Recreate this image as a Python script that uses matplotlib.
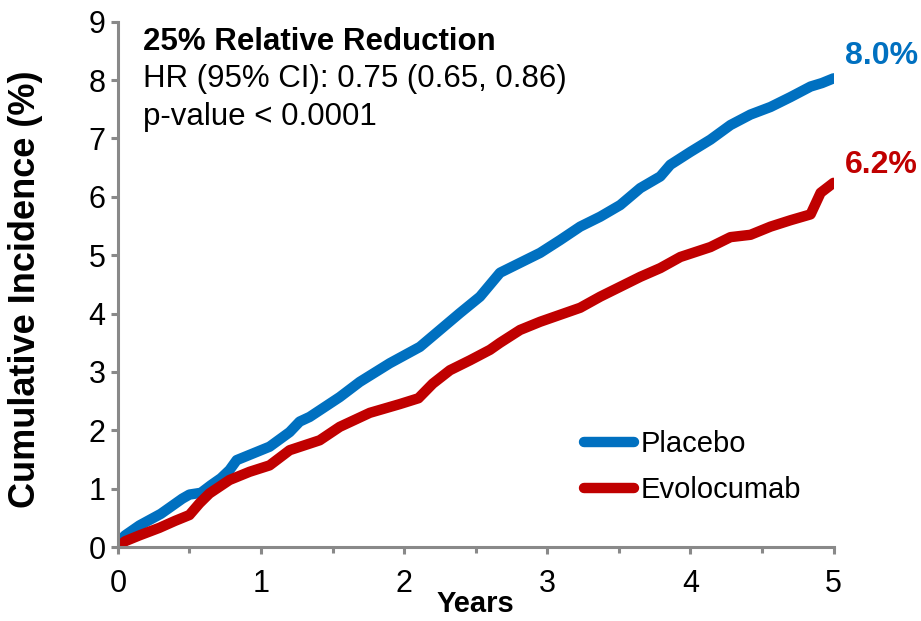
import matplotlib.pyplot as plt
from matplotlib.ticker import MultipleLocator

plt.rcParams["font.family"] = ["Liberation Sans", "DejaVu Sans"]

# --- Data ---
years_placebo = [0, 0.05, 0.15, 0.3, 0.45, 0.5, 0.58, 0.65, 0.72, 0.78, 0.83,
                 0.92, 1.06, 1.2, 1.27, 1.34, 1.55, 1.69, 1.9, 2.11, 2.25, 2.39,
                 2.53, 2.67, 2.81, 2.95, 3.09, 3.23, 3.37, 3.51, 3.65, 3.79,
                 3.86, 4.0, 4.14, 4.28, 4.42, 4.56, 4.7, 4.84, 4.92, 5.0]
inc_placebo = [0.07, 0.2, 0.37, 0.57, 0.83, 0.9, 0.93, 1.06, 1.18, 1.32, 1.49,
               1.58, 1.72, 1.97, 2.15, 2.23, 2.57, 2.83, 3.15, 3.43, 3.72, 4.01,
               4.29, 4.7, 4.87, 5.04, 5.26, 5.49, 5.66, 5.86, 6.15, 6.35,
               6.55, 6.77, 6.98, 7.23, 7.41, 7.54, 7.71, 7.89, 7.95, 8.03]

years_evo = [0, 0.05, 0.15, 0.29, 0.4, 0.5, 0.57, 0.64, 0.78, 0.92, 1.06, 1.2,
             1.41, 1.55, 1.76, 1.97, 2.1, 2.2, 2.32, 2.46, 2.6, 2.67, 2.81,
             2.95, 3.09, 3.23, 3.37, 3.51, 3.65, 3.79, 3.93, 4.14, 4.28, 4.42,
             4.56, 4.7, 4.84, 4.91, 5.0]
inc_evo = [0.0, 0.1, 0.2, 0.33, 0.45, 0.55, 0.75, 0.92, 1.15, 1.29, 1.4, 1.66,
           1.83, 2.06, 2.3, 2.45, 2.55, 2.8, 3.03, 3.2, 3.38, 3.5, 3.72,
           3.86, 3.98, 4.1, 4.29, 4.46, 4.63, 4.78, 4.97, 5.14, 5.31, 5.35,
           5.49, 5.6, 5.7, 6.07, 6.24]

final_labels = ["8.0%", "6.2%"]
blue = "#0070C0"
red = "#C00000"
grey = "#898989"

fig = plt.figure(figsize=(9.21, 6.21), dpi=100)
ax = fig.add_axes([0.128, 0.119, 0.777, 0.846])

ax.plot(years_placebo, inc_placebo, color=blue, lw=7.5,
        solid_capstyle="round", solid_joinstyle="round", label="Placebo")
ax.plot(years_evo, inc_evo, color=red, lw=7.5,
        solid_capstyle="round", solid_joinstyle="round", label="Evolocumab")

ax.set_xlim(0, 5)
ax.set_ylim(0, 9)
ax.xaxis.set_major_locator(MultipleLocator(1))
ax.xaxis.set_minor_locator(MultipleLocator(0.5))
ax.yaxis.set_major_locator(MultipleLocator(1))

for side in ["top", "right"]:
    ax.spines[side].set_visible(False)
for side in ["left", "bottom"]:
    ax.spines[side].set_color(grey)
    ax.spines[side].set_linewidth(2.2)

ax.tick_params(axis="both", which="major", direction="out", length=5,
               width=2.2, color=grey, labelsize=22)
ax.tick_params(axis="x", which="major", pad=11)
ax.tick_params(axis="y", which="major", pad=4)
ax.tick_params(axis="x", which="minor", direction="out", length=4,
               width=2.2, color=grey)

ax.set_xlabel("Years", fontsize=21, fontweight="bold", labelpad=-7)
ax.set_ylabel("Cumulative Incidence (%)", fontsize=26, fontweight="bold")
ax.yaxis.set_label_coords(-0.104, 0.49)

# annotation block
ax.text(0.175, 8.66, "25% Relative Reduction", fontsize=22.5,
        fontweight="bold", va="center")
ax.text(0.175, 8.02, "HR (95% CI): 0.75 (0.65, 0.86)", fontsize=22.5,
        va="center")
ax.text(0.175, 7.36, "p-value < 0.0001", fontsize=22.5, va="center")

# end-of-curve labels
ax.text(5.08, 8.42, final_labels[0], color=blue, fontsize=23,
        fontweight="bold", va="center", clip_on=False)
ax.text(5.08, 6.55, final_labels[1], color=red, fontsize=23,
        fontweight="bold", va="center", clip_on=False)

leg = ax.legend(loc="center left", bbox_to_anchor=(0.615, 0.152),
                frameon=False, fontsize=21, handlelength=1.7,
                handletextpad=0.25, labelspacing=0.6)

fig.savefig("out.png", dpi=100)
